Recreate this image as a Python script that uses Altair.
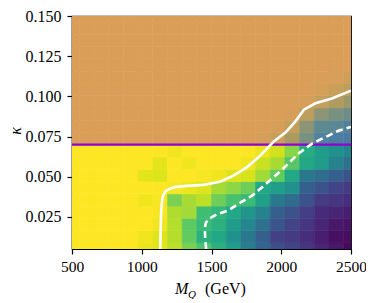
import altair as alt
import pandas as pd

# ---- data -------------------------------------------------------------
m_q = [500, 605, 711, 816, 921, 1026, 1132, 1237, 1342, 1447,
       1553, 1658, 1763, 1868, 1974, 2079, 2184, 2289, 2395, 2500]
kappa = [0.0050, 0.0126, 0.0203, 0.0279, 0.0355, 0.0432, 0.0508, 0.0584, 0.0661, 0.0737,
         0.0813, 0.0889, 0.0966, 0.1042, 0.1118, 0.1195, 0.1271, 0.1347, 0.1424, 0.1500]

# one row per kappa value (bottom -> top), one entry per M_Q value
z_rows = [
    [1, 1, 1, 1, 1, 0.97, 0.96, 0.90, 0.80, 0.72, 0.64, 0.55, 0.42, 0.32, 0.24, 0.20, 0.15, 0.10, 0.06, 0.02],
    [1, 1, 1, 1, 1, 0.98, 0.95, 0.89, 0.76, 0.64, 0.60, 0.50, 0.40, 0.30, 0.19, 0.17, 0.13, 0.08, 0.04, 0.03],
    [1, 1, 1, 1, 1, 1.00, 0.98, 0.89, 0.75, 0.68, 0.64, 0.55, 0.46, 0.37, 0.26, 0.20, 0.15, 0.10, 0.06, 0.05],
    [1, 1, 1, 1, 1, 1.00, 0.99, 0.88, 0.86, 0.69, 0.66, 0.60, 0.52, 0.44, 0.30, 0.25, 0.18, 0.12, 0.10, 0.08],
    [1, 1, 1, 1, 1, 0.98, 0.99, 0.80, 0.87, 0.90, 0.78, 0.71, 0.68, 0.57, 0.40, 0.35, 0.25, 0.17, 0.15, 0.13],
    [1, 1, 1, 1, 1, 1.00, 1.00, 0.99, 0.97, 0.95, 0.87, 0.83, 0.78, 0.60, 0.56, 0.50, 0.30, 0.25, 0.20, 0.17],
    [1, 1, 1, 1, 1, 0.96, 0.95, 1.00, 1.00, 0.99, 0.98, 0.95, 0.94, 0.86, 0.76, 0.60, 0.40, 0.35, 0.30, 0.25],
    [1, 1, 1, 1, 1, 1.00, 0.96, 1.00, 0.98, 1.00, 1.00, 1.00, 0.98, 0.92, 0.87, 0.74, 0.60, 0.55, 0.44, 0.37],
    [1, 1, 1, 1, 1, 1.00, 1.00, 0.98, 1.00, 1.00, 1.00, 1.00, 1.00, 0.97, 0.93, 0.82, 0.62, 0.55, 0.50, 0.45],
    [1, 1, 1, 1, 1, 1, 1, 1, 1, 1, 1, 1, 1, 0.97, 0.90, 0.78, 0.55, 0.32, 0.27, 0.25],
    [1, 1, 1, 1, 1, 1, 1, 1, 1, 1, 1, 1, 1, 1.00, 0.97, 0.88, 0.62, 0.42, 0.40, 0.32],
    [1, 1, 1, 1, 1, 1, 1, 1, 1, 1, 1, 1, 1, 1.00, 1.00, 0.97, 0.85, 0.62, 0.55, 0.50],
    [1, 1, 1, 1, 1, 1, 1, 1, 1, 1, 1, 1, 1, 1.00, 1.00, 1.00, 0.97, 0.88, 0.80, 0.70],
    [1, 1, 1, 1, 1, 1, 1, 1, 1, 1, 1, 1, 1, 1.00, 1.00, 1.00, 1.00, 0.97, 0.90, 0.85],
    [1, 1, 1, 1, 1, 1, 1, 1, 1, 1, 1, 1, 1, 1, 1, 1, 1, 1, 0.98, 0.94],
    [1] * 20,
    [1] * 20,
    [1] * 20,
    [1] * 20,
    [1] * 20,
]

solid_m = [1133, 1135, 1138, 1142, 1150, 1170, 1200, 1240, 1323, 1441, 1559,
           1654, 1748, 1843, 1949, 2032, 2103, 2162, 2245, 2363, 2500]
solid_k = [0.005, 0.015, 0.025, 0.032, 0.0375, 0.041, 0.0425, 0.0435, 0.0443, 0.0449, 0.0469,
           0.0505, 0.0555, 0.0626, 0.0721, 0.0776, 0.0846, 0.0917, 0.0957, 0.0987, 0.1035]

dashed_m = [1462, 1455, 1452, 1458, 1476, 1535, 1620, 1710, 1796, 1890, 2008,
            2126, 2221, 2268, 2339, 2410, 2500]
dashed_k = [0.005, 0.011, 0.0175, 0.021, 0.0235, 0.0265, 0.029, 0.034, 0.0385, 0.0455, 0.0545,
            0.0646, 0.0706, 0.0726, 0.0756, 0.0786, 0.081]

kappa_cut = 0.07
x_ticks = [500, 1000, 1500, 2000, 2500]
y_ticks = [0.025, 0.050, 0.075, 0.100, 0.125, 0.150]
x_dom = [500, 2500]
y_dom = [0.005, 0.150]

# ---- build tables -----------------------------------------------------
def edges(c):
    e = [c[0] - (c[1] - c[0]) / 2]
    for a, b in zip(c[:-1], c[1:]):
        e.append((a + b) / 2)
    e.append(c[-1] + (c[-1] - c[-2]) / 2)
    return e

xe, ye = edges(m_q), edges(kappa)
recs = []
for i, k in enumerate(kappa):
    for j, m in enumerate(m_q):
        recs.append(dict(
            m=m, k=k, z=z_rows[i][j],
            x0=max(xe[j], x_dom[0]), x1=min(xe[j + 1], x_dom[1]),
            y0=max(ye[i], y_dom[0]), y1=min(ye[i + 1], y_dom[1]),
            top=k > kappa_cut))
cells = pd.DataFrame(recs)
low = cells[~cells.top]
high = cells[cells.top]

solid = pd.DataFrame({"m": solid_m, "k": solid_k, "i": range(len(solid_m))})
dashed = pd.DataFrame({"m": dashed_m, "k": dashed_k, "i": range(len(dashed_m))})

FONT = "Liberation Serif"
FS = 16

xs = alt.Scale(domain=x_dom, nice=False, zero=False)
ys = alt.Scale(domain=y_dom, nice=False, zero=False)

x_axis = alt.Axis(values=x_ticks, format="d", title=None, grid=False,
                  labelFont=FONT, labelFontSize=15.5, labelColor="black",
                  tickColor="black", domainColor="black", tickSize=5,
                  labelPadding=5, labelFlush=False)
y_axis = alt.Axis(values=y_ticks, format=".3f", title=None, grid=False,
                  labelFont=FONT, labelFontSize=FS, labelColor="black",
                  tickColor="black", domainColor="black", tickSize=5,
                  labelPadding=6, labelFlush=False)

vir = alt.Scale(scheme="viridis", domain=[0, 1])
base_low = alt.Chart(low).mark_rect(clip=True, strokeWidth=0.6).encode(
    x=alt.X("x0:Q", scale=xs, axis=x_axis),
    x2="x1:Q",
    y=alt.Y("y0:Q", scale=ys, axis=y_axis),
    y2="y1:Q",
    color=alt.Color("z:Q", scale=vir, legend=None),
    stroke=alt.Stroke("z:Q", scale=vir, legend=None),
)

top_stops = [0.2, 0.3, 0.4, 0.5, 0.6, 0.7, 0.8, 0.9, 1.0]
top_colors = ["#4a74a6", "#4f80a0", "#5a8894", "#6e8c88", "#8a9478",
              "#9a9868", "#b09c60", "#c8a05a", "#db9e59"]
tops = alt.Scale(domain=top_stops, range=top_colors, clamp=True)

base_high = alt.Chart(high).mark_rect(clip=True, strokeWidth=0.6).encode(
    x=alt.X("x0:Q", scale=xs),
    x2="x1:Q",
    y=alt.Y("y0:Q", scale=ys),
    y2="y1:Q",
    color=alt.Color("z:Q", scale=tops, legend=None),
    stroke=alt.Stroke("z:Q", scale=tops, legend=None),
)

cut = alt.Chart(pd.DataFrame({"k": [kappa_cut]})).mark_rule(
    color="#9400d3", strokeWidth=2.3).encode(y=alt.Y("k:Q", scale=ys))

line_solid = alt.Chart(solid).mark_line(color="white", strokeWidth=2.6, clip=True).encode(
    x=alt.X("m:Q", scale=xs), y=alt.Y("k:Q", scale=ys), order="i:Q")
line_dash = alt.Chart(dashed).mark_line(color="white", strokeWidth=2.6, clip=True,
                                         strokeDash=[7, 4]).encode(
    x=alt.X("m:Q", scale=xs), y=alt.Y("k:Q", scale=ys), order="i:Q")

def label(txt, x, y, size=FS, style="normal", angle=0, align="left"):
    return alt.Chart(pd.DataFrame({"t": [txt]})).mark_text(
        font=FONT, fontSize=size, fontStyle=style, angle=angle, align=align,
        baseline="alphabetic", color="black").encode(
        text="t:N", x=alt.value(x), y=alt.value(y))

t_m = label("M", 103, 278, style="italic")
t_q = label("Q", 116, 282, size=11, style="italic")
t_gev = label("(GeV)", 133, 278)
t_k = alt.Chart(pd.DataFrame({"t": ["κ"]})).mark_text(
    font=FONT, fontSize=FS, fontStyle="italic", angle=270, align="center",
    baseline="middle", color="black").encode(
    text="t:N", x=alt.value(-56), y=alt.value(115))

chart = alt.layer(
    base_low, base_high, cut, line_solid, line_dash, t_m, t_q, t_gev, t_k
).resolve_scale(color="independent", stroke="independent").properties(
    width=279, height=233,
    padding={"left": 64, "top": 8, "right": 15, "bottom": 50},
    autosize=alt.AutoSizeParams(type="none"),
).configure_view(stroke="black", strokeWidth=1.2).configure_axis(domainWidth=1.2, tickWidth=1.2)

chart.save("out.html", embed_options={"renderer": "svg", "actions": False})
